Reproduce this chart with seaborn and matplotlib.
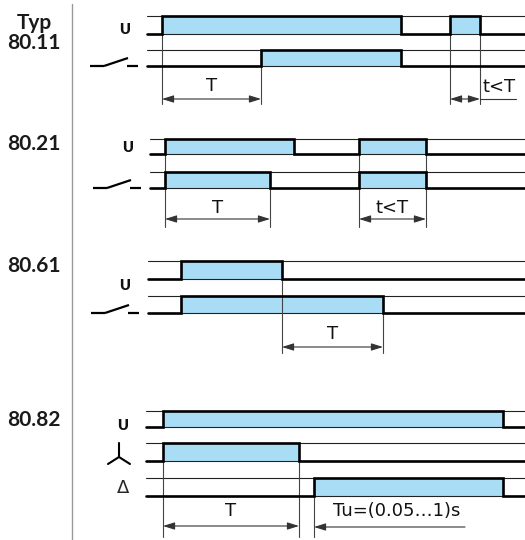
import matplotlib
matplotlib.use("Agg")
import matplotlib.pyplot as plt
import seaborn as sns
import pandas as pd

sns.set_theme(style="white")
plt.rcParams['font.family'] = ['Lato', 'DejaVu Sans']

# %%
# timing data: (switch on, switch off) times of every signal, on a common time axis

types = ["Typ\n80.11", "80.21", "80.61", "80.82"]

u_11 = [(162, 401), (450, 480)]
k_11 = [(261, 401)]
u_21 = [(165, 294), (359, 426)]
k_21 = [(165, 270), (359, 426)]
u_61 = [(181, 282)]
k_61 = [(181, 383)]
u_82 = [(163, 503)]
star_82 = [(163, 299)]
delta_82 = [(314, 503)]

# dimension arrows: (from, to, label)
dims_11 = [(162, 261, "T"), (450, 480, "t<T")]
dims_21 = [(165, 270, "T"), (359, 426, "t<T")]
dims_61 = [(282, 383, "T")]
dims_82 = [(163, 299, "T")]
tu_82 = (314, "Tu=(0.05…1)s")

t_end = 525

# %%
# layout

blue = '#a9ddf6'
thick = 1.9
thin = 0.8
dim_font = dict(fontsize=13, family='DejaVu Sans', color='#111')

fig = plt.figure(figsize=(5.25, 5.40), dpi=100)
ax = fig.add_axes([0, 0, 1, 1])
ax.set_xlim(0, 525)
ax.set_ylim(540, 0)
ax.axis('off')


def signal(pulses, start, hi, lo):
    xs, ys = [start], [lo]
    for a, b in pulses:
        xs += [a, a, b, b]
        ys += [lo, hi, hi, lo]
    xs.append(t_end)
    ys.append(lo)
    df = pd.DataFrame({'t': xs, 'level': ys})
    # reference lines
    ax.plot([start, t_end], [hi, hi], color='#222', lw=thin, zorder=1)
    ax.plot([start, t_end], [lo, lo], color='#222', lw=thin, zorder=1)
    for a, b in pulses:
        ax.fill_between([a, b], hi, lo, color=blue, lw=0, zorder=0)
    sns.lineplot(data=df, x='t', y='level', sort=False, estimator=None,
                 color='black', lw=thick, ax=ax, zorder=3,
                 solid_joinstyle='miter')


def contact(start, lo):
    kw = dict(color='black', lw=1.6, solid_capstyle='butt', zorder=3)
    ax.plot([start - 57, start - 43], [lo, lo], **kw)
    ax.plot([start - 43, start - 19], [lo, lo - 8], **kw)
    ax.plot([start - 20, start - 9], [lo, lo], **kw)


def ext(x, y0, y1):
    ax.plot([x, x], [y0, y1], color='#444', lw=thin, zorder=2)


def arrow(a, b, y, style='<|-|>'):
    ax.annotate('', xy=(b, y), xytext=(a, y),
                arrowprops=dict(arrowstyle=style + ',head_length=0.7,head_width=0.22',
                                color='#333', lw=thin, shrinkA=0, shrinkB=0,
                                mutation_scale=10))


def label_u(x, y):
    ax.text(x, y, 'U', fontsize=10.5, fontweight='heavy', ha='center', va='center',
            color='#111')


# divider
ax.plot([72, 72], [4, 540], color='#999', lw=1)

# type labels
type_y = [33, 144, 266, 420]
for name, y in zip(types, type_y):
    ax.text(34, y, name, fontsize=15, fontweight='bold', ha='center', va='center',
            linespacing=0.95, color='#1a1a1a')

# %% 80.11
signal(u_11, 147, 16, 34)
signal(k_11, 147, 50, 66)
label_u(125, 30)
contact(147, 66)
ext(162, 34, 104)
ext(261, 66, 104)
ext(450, 34, 104)
ext(480, 34, 104)
for a, b, txt in dims_11:
    arrow(a, b, 99)
ax.text((dims_11[0][0] + dims_11[0][1]) / 2, 86, dims_11[0][2], ha='center', va='center', **dim_font)
ax.text(499, 87, dims_11[1][2], ha='center', va='center', **dim_font)
ax.plot([480, 516], [99, 99], color='#333', lw=thin)

# %% 80.21
signal(u_21, 150, 139, 154)
signal(k_21, 150, 172, 188)
label_u(128, 148)
contact(150, 188)
ext(165, 154, 227)
ext(270, 188, 227)
ext(359, 154, 227)
ext(426, 154, 227)
for a, b, txt in dims_21:
    arrow(a, b, 219)
    ax.text((a + b) / 2, 208, txt, ha='center', va='center', **dim_font)

# %% 80.61
signal(u_61, 148, 261, 279)
signal(k_61, 148, 296, 313)
label_u(125, 285)
contact(148, 313)
ext(282, 279, 353)
ext(383, 313, 353)
for a, b, txt in dims_61:
    arrow(a, b, 347)
    ax.text((a + b) / 2, 334, txt, ha='center', va='center', **dim_font)

# %% 80.82
signal(u_82, 146, 411, 427)
signal(star_82, 146, 443, 461)
signal(delta_82, 146, 478, 496)
label_u(123, 425)
# star symbol
ax.plot([119, 119], [443, 457], color='black', lw=1.5)
ax.plot([108, 119, 130], [464, 457, 464], color='black', lw=1.5)
ax.text(123, 488, 'Δ', fontsize=13, ha='center', va='center', family='DejaVu Sans')
ext(163, 461, 537)
ext(299, 461, 537)
ext(314, 496, 537)
for a, b, txt in dims_82:
    arrow(a, b, 526)
    ax.text((a + b) / 2, 511, txt, ha='center', va='center', **dim_font)
arrow(465, tu_82[0], 527, style='-|>')
ax.text(333, 511, tu_82[1], ha='left', va='center', **dim_font)

fig.savefig('out.png', dpi=100)
